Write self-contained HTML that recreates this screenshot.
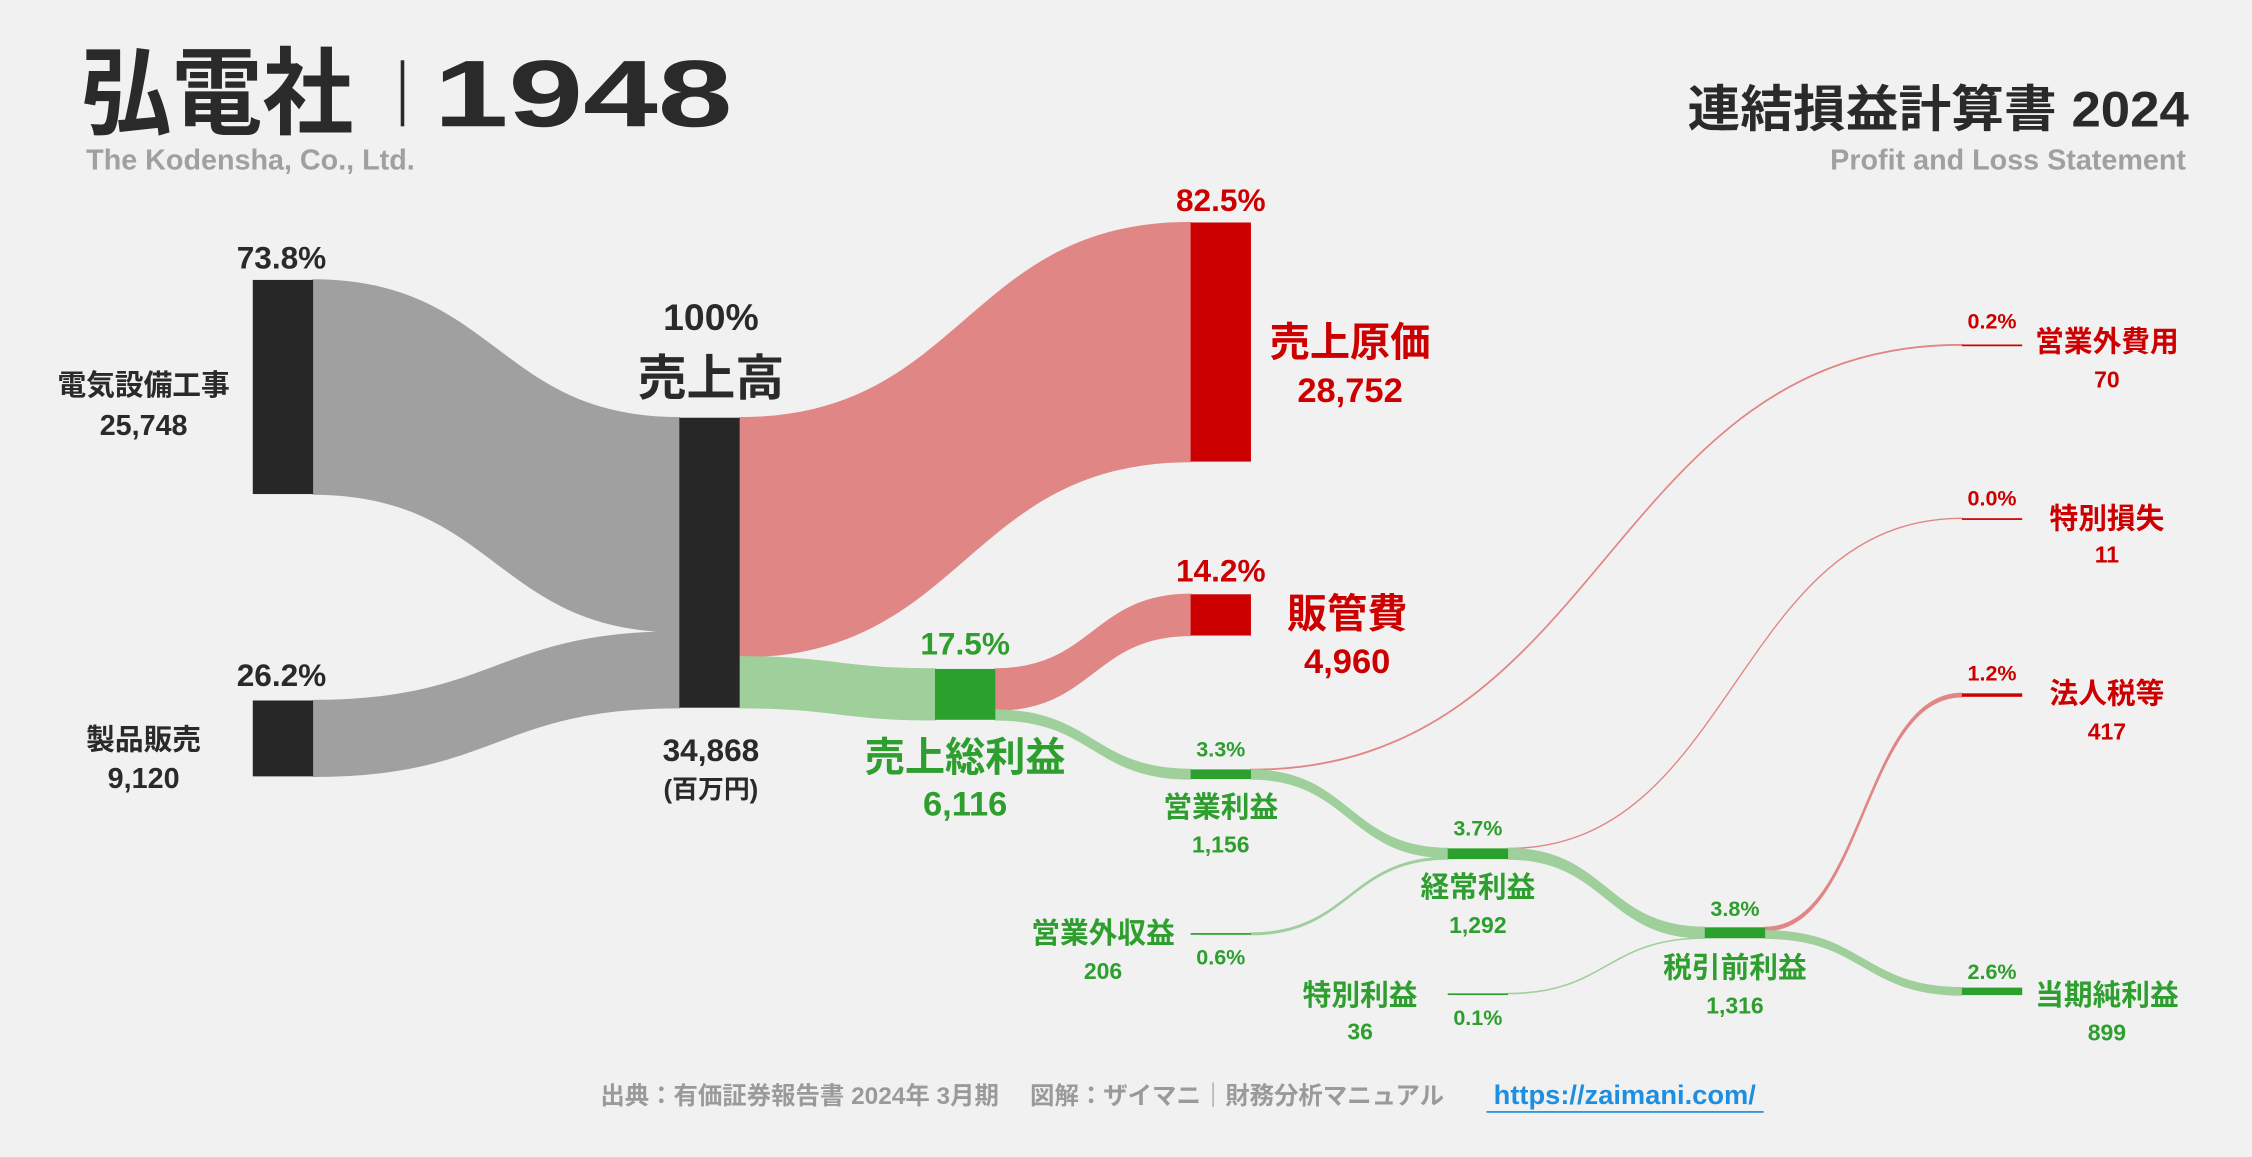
<!DOCTYPE html>
<html><head><meta charset="utf-8"><style>
html,body{margin:0;padding:0;background:#f1f1f1;}
svg{display:block;font-family:"Liberation Sans","Noto Sans CJK JP",sans-serif;font-weight:bold;}
</style></head><body>
<svg id="chart" width="2252" height="1157" viewBox="0 0 1568 806" preserveAspectRatio="none" xmlns="http://www.w3.org/2000/svg">
<rect width="1568" height="806" fill="#f1f1f1"/>
<g>
<text x="56" y="88" font-size="66" fill="#2a2a2a" textLength="190" lengthAdjust="spacingAndGlyphs">弘電社</text>
<rect x="279" y="42" width="2.5" height="46" fill="#2a2a2a"/>
<text x="302" y="88" font-size="66" fill="#2a2a2a" textLength="208" lengthAdjust="spacingAndGlyphs">1948</text>
<text x="60" y="118" font-size="20" fill="#a0a0a0">The Kodensha, Co., Ltd.</text>
<text x="1175" y="88" font-size="35" fill="#2a2a2a" textLength="349" lengthAdjust="spacingAndGlyphs">連結損益計算書 2024</text>
<text x="1522" y="118" font-size="20" fill="#a0a0a0" text-anchor="end">Profit and Loss Statement</text>
</g>
<g id="links"></g>
<g id="nodes"></g>
<g id="labels"></g>
<g>
<text x="418" y="769" font-size="17" fill="#9a9a9a">出典：有価証券報告書 2024年 3月期　 図解：ザイマニ｜財務分析マニュアル</text>
<text x="1040" y="769" font-size="19" fill="#1e8fe0">https://zaimani.com/</text>
<rect x="1035" y="774" width="193" height="1.2" fill="#1e8fe0"/>
</g>
</svg>
<script>
// data (百万円)
const nodeNames = ["電気設備工事","製品販売","売上高","売上原価","販管費","売上総利益","営業利益","営業外収益","経常利益","営業外費用","特別利益","税引前利益","特別損失","法人税等","当期純利益"];
const nodeValues = [25748,9120,34868,28752,4960,6116,1156,206,1292,70,36,1316,11,417,899];
const nodePcts = ["73.8%","26.2%","100%","82.5%","14.2%","17.5%","3.3%","0.6%","3.7%","0.2%","0.1%","3.8%","0.0%","1.2%","2.6%"];
const nodeLabels = ["25,748","9,120","34,868","28,752","4,960","6,116","1,156","206","1,292","70","36","1,316","11","417","899"];
const flowSrc = [0,1,2,2,5,5,6,6,7,8,8,10,11,11];
const flowTgt = [2,2,3,5,4,6,9,8,8,12,11,11,13,14];
const flowVals = [25748,9120,28752,6116,4960,1156,70,1086,206,11,1281,36,417,899];
// layout
const colX = [176,176,473,829,829,651,829,829,1008,1366,1008,1187,1366,1366,1366];
const topY = [195,488,291,155,414,466,536,650,591,240,692,646,361,483,688];
const nodeKind = ["rev","rev","rev","cost","cost","profit","profit","profit","profit","cost","profit","profit","cost","cost","profit"];
const NW = 42, K = 202/34868;
const nodeFill = {rev:"#272727",cost:"#cc0000",profit:"#2ca02c"};
const linkFill = {rev:"#a0a0a0",cost:"#e08786",profit:"#9fcf9b"};
const NS="http://www.w3.org/2000/svg";
const h = v => Math.max(v*K,1.2);
const outOff = nodeValues.map(()=>0), inOff = nodeValues.map(()=>0);
const links = document.getElementById('links');
flowVals.forEach((v,i)=>{
  const s=flowSrc[i], t=flowTgt[i], w=v*K;
  const x0=colX[s]+NW, x1=colX[t], xm=(x0+x1)/2;
  const y0=topY[s]+outOff[s], y1=topY[t]+inOff[t];
  outOff[s]+=w; inOff[t]+=w;
  const kind = nodeKind[s]==="rev" && nodeKind[t]==="rev" ? "rev" : nodeKind[t];
  const p=document.createElementNS(NS,'path');
  p.setAttribute('d',`M${x0},${y0}C${xm},${y0} ${xm},${y1} ${x1},${y1}L${x1},${y1+w}C${xm},${y1+w} ${xm},${y0+w} ${x0},${y0+w}Z`);
  p.setAttribute('fill',linkFill[kind]);
  p.setAttribute('stroke',linkFill[kind]);
  p.setAttribute('stroke-width','0.9');
  
  
  links.appendChild(p);
});
const nodesG=document.getElementById('nodes');
nodeValues.forEach((v,i)=>{
  const r=document.createElementNS(NS,'rect');
  r.setAttribute('x',colX[i]);r.setAttribute('y',topY[i]);
  r.setAttribute('width',NW);r.setAttribute('height',h(v));
  r.setAttribute('fill',nodeFill[nodeKind[i]]);
  
  
  nodesG.appendChild(r);
});
const G="#2e9e2e",R="#cc0000",D="#2a2a2a";
const lab = [
 [196,187,22,100,275,20,303,20,D],
 [196,478,22,100,522,20,549,20,D],
 [495,230,26,495,275,34,530,22,D],
 [850,147,22,940,248,28,280,24,R],
 [850,405,22,938,437,28,469,24,R],
 [672,456,22,672,537,28,568,24,G],
 [850,527,15,850,569,20,594,16,G],
 [850,672,15,768,657,20,682,16,G],
 [1029,582,15,1029,625,20,650,16,G],
 [1387,229,15,1467,245,20,270,16,R],
 [1029,714,15,947,700,20,724,16,G],
 [1208,638,15,1208,681,20,706,16,G],
 [1387,352,15,1467,368,20,392,16,R],
 [1387,474,15,1467,490,20,515,16,R],
 [1387,682,15,1467,700,20,725,16,G]
];
const labelsG=document.getElementById('labels');
function txt(x,y,s,c,str,name){
  const t=document.createElementNS(NS,'text');
  t.setAttribute('x',x);t.setAttribute('y',y);t.setAttribute('font-size',s);
  t.setAttribute('fill',c);t.setAttribute('text-anchor','middle');
  t.textContent=str;
  
  
  labelsG.appendChild(t);
}
lab.forEach((L,i)=>{
  txt(L[0],L[1],L[2],L[8],nodePcts[i],'pct-'+nodeNames[i]);
  txt(L[3],L[4],L[5],L[8],nodeNames[i],'name-'+nodeNames[i]);
  txt(L[3],L[6],L[7],L[8],nodeLabels[i],'value-'+nodeNames[i]);
});
txt(495,556,18,D,"(百万円)",'unit-label');
</script>
</body></html>
